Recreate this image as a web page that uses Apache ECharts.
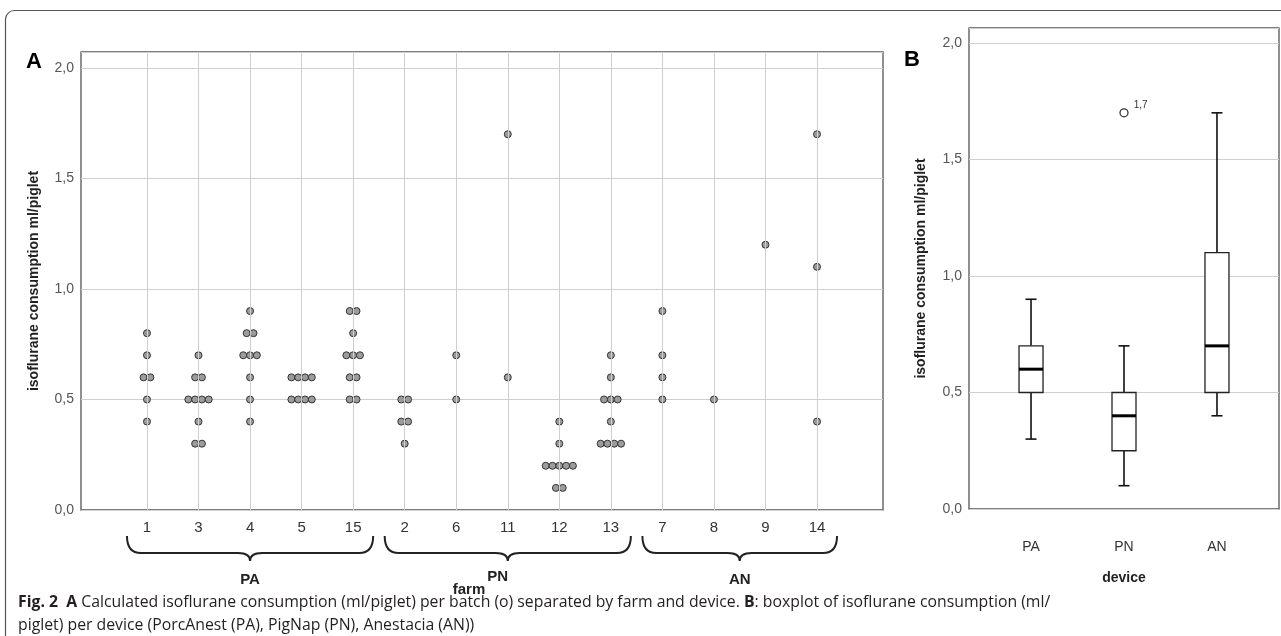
<!DOCTYPE html>
<html>
<head>
<meta charset="utf-8">
<script src="https://cdn.jsdelivr.net/npm/echarts@6/dist/echarts.min.js"></script>
<style>
  html, body { margin: 0; padding: 0; background: #fff; }
  #main { width: 1281px; height: 636px; }
</style>
</head>
<body>
<div id="main"></div>
<script>
// panel A: farms in device order, each batch one value (ml/piglet)
var farms = ['1', '3', '4', '5', '15', '2', '6', '11', '12', '13', '7', '8', '9', '14'];
var farmValues = [
    [0.8, 0.7, 0.6, 0.6, 0.5, 0.4],
    [0.7, 0.6, 0.6, 0.5, 0.5, 0.5, 0.5, 0.4, 0.3, 0.3],
    [0.9, 0.8, 0.8, 0.7, 0.7, 0.7, 0.6, 0.5, 0.4],
    [0.6, 0.6, 0.6, 0.6, 0.5, 0.5, 0.5, 0.5],
    [0.9, 0.9, 0.8, 0.7, 0.7, 0.7, 0.6, 0.6, 0.5, 0.5],
    [0.5, 0.5, 0.4, 0.4, 0.3],
    [0.7, 0.5],
    [1.7, 0.6],
    [0.4, 0.3, 0.2, 0.2, 0.2, 0.2, 0.2, 0.1, 0.1],
    [0.7, 0.6, 0.5, 0.5, 0.5, 0.4, 0.3, 0.3, 0.3, 0.3],
    [0.9, 0.7, 0.6, 0.5],
    [0.5],
    [1.2],
    [1.7, 1.1, 0.4]
];
var groupNames = ['PA', 'PN', 'AN'];
var groupSizes = [5, 5, 4];

// panel B: boxplot per device
var devices = ['PA', 'PN', 'AN'];
var boxMin = [0.3, 0.1, 0.4];
var boxQ1 = [0.5, 0.25, 0.5];
var boxMedian = [0.6, 0.4, 0.7];
var boxQ3 = [0.7, 0.5, 1.1];
var boxMax = [0.9, 0.7, 1.7];
var outliers = [[1, 1.7]];

var yTicks = [0, 0.5, 1, 1.5, 2];

var fontMain = "'Liberation Sans', Arial, sans-serif";
var fontNarrow = "'Liberation Sans Narrow', 'Liberation Sans', Arial, sans-serif";

function comma(v) {
    return v.toFixed(1).replace('.', ',');
}
function yLabel(v) {
    for (var i = 0; i < yTicks.length; i++) {
        if (Math.abs(yTicks[i] - v) < 1e-6) return comma(v);
    }
    return '';
}

// dots with the same value sit side by side
var dotStep = 6.8;
var dots = [];
farmValues.forEach(function (vals, i) {
    var counts = {};
    vals.forEach(function (v) { counts[v] = (counts[v] || 0) + 1; });
    var seen = {};
    vals.forEach(function (v) {
        var n = counts[v];
        var k = seen[v] || 0;
        seen[v] = k + 1;
        dots.push({ value: [i, v], symbolOffset: [(k - (n - 1) / 2) * dotStep, 0] });
    });
});

// first / last farm index of every device group
var groupData = [];
var start = 0;
groupSizes.forEach(function (n, gi) {
    groupData.push([start, start + n - 1, gi]);
    start += n;
});

var boxData = devices.map(function (d, i) {
    return [i, boxMin[i], boxQ1[i], boxMedian[i], boxQ3[i], boxMax[i]];
});

var myChart = echarts.init(document.getElementById('main'));

var capFont = "'Open Sans', 'Noto Sans', sans-serif";

var option = {
    backgroundColor: '#fff',
    animation: false,
    grid: [
        { left: 81, top: 52, width: 802, height: 458, show: true, borderColor: '#555', borderWidth: 1.3, backgroundColor: 'transparent' },
        { left: 969, top: 28, width: 310, height: 481, show: true, borderColor: '#555', borderWidth: 1.3, backgroundColor: 'transparent' }
    ],
    xAxis: [
        {
            gridIndex: 0, type: 'value', min: -1.28, max: 14.28,
            axisLine: { show: false }, axisTick: { show: false }, splitLine: { show: false },
            axisLabel: {
                customValues: farms.map(function (f, i) { return i; }),
                formatter: function (v) { return farms[Math.round(v)]; },
                color: '#333', fontSize: 15, fontFamily: fontNarrow, margin: 10
            },
            name: 'farm', nameLocation: 'middle', nameGap: 72,
            nameTextStyle: { color: '#222', fontSize: 15, fontWeight: 'bold', fontFamily: fontNarrow, padding: [0, 26, 0, 0] }
        },
        {
            gridIndex: 1, type: 'value', min: -0.667, max: 2.667,
            axisLine: { show: false }, axisTick: { show: false }, splitLine: { show: false },
            axisLabel: {
                customValues: [0, 1, 2],
                formatter: function (v) { return devices[Math.round(v)]; },
                color: '#333', fontSize: 14, fontFamily: fontMain, margin: 31
            },
            name: 'device', nameLocation: 'middle', nameGap: 62,
            nameTextStyle: { color: '#222', fontSize: 14, fontWeight: 'bold', fontFamily: fontMain }
        }
    ],
    yAxis: [
        {
            gridIndex: 0, type: 'value', min: 0, max: 2.072, interval: 0.5,
            axisLine: { show: false }, axisTick: { show: false },
            splitLine: { lineStyle: { color: '#cfcfcf', width: 1 } },
            axisLabel: { formatter: yLabel, color: '#555', fontSize: 14, fontFamily: fontMain, margin: 7, showMaxLabel: false },
            name: 'isoflurane consumption ml/piglet', nameLocation: 'middle', nameGap: 40,
            nameTextStyle: { color: '#222', fontSize: 14, fontWeight: 'bold', fontFamily: fontMain }
        },
        {
            gridIndex: 1, type: 'value', min: 0, max: 2.064, interval: 0.5,
            axisLine: { show: false }, axisTick: { show: false },
            splitLine: { lineStyle: { color: '#cfcfcf', width: 1 } },
            axisLabel: { formatter: yLabel, color: '#555', fontSize: 14, fontFamily: fontMain, margin: 7, showMaxLabel: false },
            name: 'isoflurane consumption ml/piglet', nameLocation: 'middle', nameGap: 41,
            nameTextStyle: { color: '#222', fontSize: 14, fontWeight: 'bold', fontFamily: fontMain }
        }
    ],
    series: [
        {
            // vertical grid lines at each farm
            type: 'scatter', xAxisIndex: 0, yAxisIndex: 0, data: [], z: 1, silent: true,
            markLine: {
                silent: true, symbol: 'none', animation: false,
                label: { show: false },
                lineStyle: { color: '#cfcfcf', type: 'solid', width: 1 },
                data: farms.map(function (f, i) { return { xAxis: i }; })
            }
        },
        {
            type: 'scatter', xAxisIndex: 0, yAxisIndex: 0, z: 3,
            symbol: 'circle', symbolSize: 7,
            itemStyle: { color: '#9c9c9c', borderColor: '#333', borderWidth: 1, opacity: 1 },
            data: dots
        },
        {
            // braces under the farm labels, one per device
            type: 'custom', xAxisIndex: 0, yAxisIndex: 0, z: 3, silent: true, clip: false,
            data: groupData,
            renderItem: function (params, api) {
                var a = api.coord([api.value(0), 0]);
                var b = api.coord([api.value(1), 0]);
                var x1 = a[0] - 20, x2 = b[0] + 20, xm = (x1 + x2) / 2;
                var y0 = a[1] + 26, y1 = a[1] + 43, tip = a[1] + 51;
                var path = 'M' + x1 + ',' + y0 +
                    ' Q' + x1 + ',' + y1 + ' ' + (x1 + 14) + ',' + y1 +
                    ' L' + (xm - 12) + ',' + y1 +
                    ' Q' + xm + ',' + y1 + ' ' + xm + ',' + tip +
                    ' Q' + xm + ',' + y1 + ' ' + (xm + 12) + ',' + y1 +
                    ' L' + (x2 - 14) + ',' + y1 +
                    ' Q' + x2 + ',' + y1 + ' ' + x2 + ',' + y0;
                var gi = api.value(2);
                // the middle label leaves room for the axis title "farm"
                var shift = gi === 1 ? -10 : 0;
                var lift = gi === 1 ? -3 : 0;
                return {
                    type: 'group',
                    children: [
                        { type: 'path', shape: { pathData: path }, style: { fill: 'none', stroke: '#222', lineWidth: 2 } },
                        { type: 'text', x: xm + shift, y: a[1] + 70 + lift,
                          style: { text: groupNames[gi], fill: '#222', font: 'bold 15px ' + fontNarrow, align: 'center', verticalAlign: 'middle' } }
                    ]
                };
            }
        },
        {
            type: 'custom', xAxisIndex: 1, yAxisIndex: 1, z: 3,
            data: boxData,
            renderItem: function (params, api) {
                var x = api.value(0);
                var pMin = api.coord([x, api.value(1)]);
                var pQ1 = api.coord([x, api.value(2)]);
                var pMed = api.coord([x, api.value(3)]);
                var pQ3 = api.coord([x, api.value(4)]);
                var pMax = api.coord([x, api.value(5)]);
                var cx = pMed[0];
                var hw = 12, cw = 5.5;
                var line = { stroke: '#111', lineWidth: 1.6 };
                return {
                    type: 'group',
                    children: [
                        { type: 'line', shape: { x1: cx, y1: pQ3[1], x2: cx, y2: pMax[1] }, style: line },
                        { type: 'line', shape: { x1: cx, y1: pQ1[1], x2: cx, y2: pMin[1] }, style: line },
                        { type: 'line', shape: { x1: cx - cw, y1: pMax[1], x2: cx + cw, y2: pMax[1] }, style: line },
                        { type: 'line', shape: { x1: cx - cw, y1: pMin[1], x2: cx + cw, y2: pMin[1] }, style: line },
                        { type: 'rect', shape: { x: cx - hw, y: pQ3[1], width: hw * 2, height: pQ1[1] - pQ3[1] },
                          style: { fill: '#fff', stroke: '#222', lineWidth: 1.3 } },
                        { type: 'line', shape: { x1: cx - hw, y1: pMed[1], x2: cx + hw, y2: pMed[1] },
                          style: { stroke: '#000', lineWidth: 3 } }
                    ]
                };
            }
        },
        {
            type: 'scatter', xAxisIndex: 1, yAxisIndex: 1, z: 4,
            symbol: 'circle', symbolSize: 8,
            itemStyle: { color: '#fff', borderColor: '#333', borderWidth: 1.3, opacity: 1 },
            label: {
                show: true, position: 'right', distance: 5, offset: [0, -8],
                formatter: function (p) { return comma(p.value[1]); },
                color: '#333', fontSize: 10, fontFamily: fontMain
            },
            data: outliers
        }
    ],
    graphic: [
        {
            type: 'rect', shape: { x: 5.5, y: 10.5, width: 1320, height: 700, r: 9 },
            style: { fill: 'none', stroke: '#555', lineWidth: 1.2 }
        },
        {
            type: 'text', x: 26, y: 62,
            style: { text: 'A', fill: '#000', font: 'bold 22px ' + fontMain, verticalAlign: 'middle' }
        },
        {
            type: 'text', x: 904, y: 60,
            style: { text: 'B', fill: '#000', font: 'bold 22px ' + fontMain, verticalAlign: 'middle' }
        },
        {
            type: 'text', x: 18, y: 602,
            style: {
                text: '{b|Fig. 2}  {b|A} Calculated isoflurane consumption (ml/piglet) per batch (o) separated by farm and device. {b|B}: boxplot of isoflurane consumption (ml/',
                verticalAlign: 'middle',
                font: '15.8px ' + capFont, fill: '#231f20',
                rich: {
                    b: { fontWeight: 'bold', fontSize: 15.8, fontFamily: capFont, fill: '#231f20' }
                }
            }
        },
        {
            type: 'text', x: 18, y: 625,
            style: {
                text: 'piglet) per device (PorcAnest (PA), PigNap (PN), Anestacia (AN))',
                verticalAlign: 'middle',
                font: '15.8px ' + capFont, fill: '#231f20'
            }
        }
    ]
};

myChart.setOption(option);
</script>
</body>
</html>
